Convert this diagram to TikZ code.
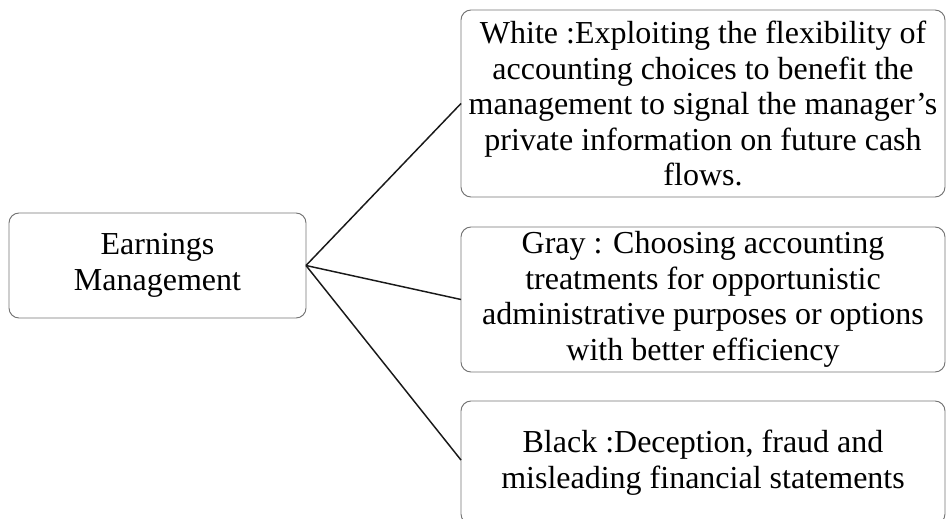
\documentclass[tikz,border=0pt]{standalone}
\usepackage{fontspec}
\setmainfont{Liberation Serif}
\usepackage{tikz}
\usetikzlibrary{calc}

\begin{document}
\begin{tikzpicture}[x=0.75pt,y=-0.75pt]
\tikzstyle{box}=[draw=black!55,line width=0.7pt,rounded corners=7.5pt,outer sep=0pt,inner sep=0pt,align=center,font=\fontsize{24}{26.6}\selectfont]
\tikzstyle{link}=[line width=1.1pt,black!90]

\useasboundingbox (0,0) rectangle (946,518);

\node (EM) [box,minimum width=297*0.75pt,minimum height=105*0.75pt] at (157.5,265.5) {Earnings\\Management};

\node (W) [box,minimum width=484*0.75pt,minimum height=187*0.75pt] at (703,103.5) {White :Exploiting the flexibility of\\accounting choices to benefit the\\management to signal the manager’s\\private information on future cash\\flows.};
\node (G) [box,minimum width=484*0.75pt,minimum height=145*0.75pt] at (703,299.5) {Gray : Choosing accounting\\treatments for opportunistic\\administrative purposes or options\\with better efficiency};
\node (B) [box,minimum width=484*0.75pt,minimum height=123*0.75pt] at (703,462.5) {Black :Deception, fraud and\\misleading financial statements};

\draw [link] (EM.east) -- (W.west);
\draw [link] (EM.east) -- (G.west);
\draw [link] (EM.east) -- ($(B.north west)!0.48!(B.south west)$);

\end{tikzpicture}
\end{document}
